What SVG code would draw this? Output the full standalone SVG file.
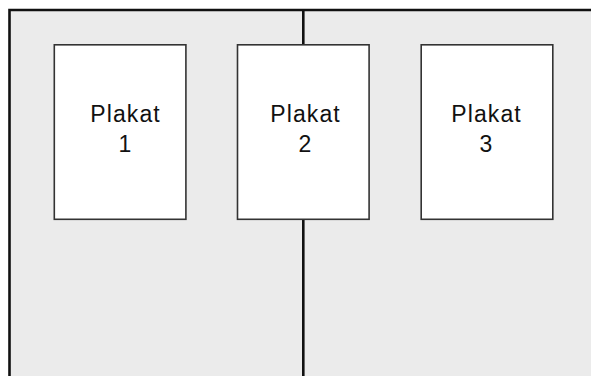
<svg xmlns="http://www.w3.org/2000/svg" width="591" height="376" viewBox="0 0 591 376">
<style>
.bg{fill:#ebebeb;}
.wall{stroke:#111;stroke-width:2.6;fill:none;}
.box{fill:#fff;stroke:#333;stroke-width:1.6;}
.lbl{font-family:"Liberation Sans",Arial,sans-serif;font-size:23px;letter-spacing:1.1px;fill:#111;text-anchor:middle;}
</style>
<rect x="0" y="0" width="591" height="376" fill="#fff"/>
<rect class="bg" x="9.5" y="10" width="582" height="367"/>
<g id="connectors">
<path class="wall" d="M9.5 377 V10 H591"/>
<path class="wall" d="M303.3 10 V45"/>
<path class="wall" d="M303.3 219 V377"/>
</g>
<g id="plakat1">
<rect class="box" x="54.3" y="44.8" width="131.6" height="174.5"/>
<text class="lbl" x="125.5" y="122.3">Plakat</text>
<text class="lbl" x="125.5" y="152.3">1</text>
</g>
<g id="plakat2">
<rect class="box" x="237.5" y="44.8" width="131.6" height="174.5"/>
<text class="lbl" x="305.5" y="122.3">Plakat</text>
<text class="lbl" x="305.5" y="152.3">2</text>
</g>
<g id="plakat3">
<rect class="box" x="421.2" y="44.8" width="131.6" height="174.5"/>
<text class="lbl" x="486.5" y="122.3">Plakat</text>
<text class="lbl" x="486.5" y="152.3">3</text>
</g>
</svg>
